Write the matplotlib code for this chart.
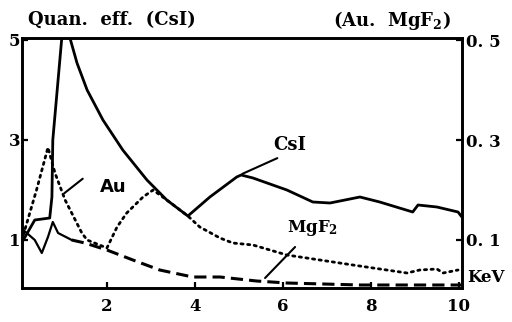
import matplotlib.pyplot as plt

plt.rcParams['font.family'] = ['DejaVu Serif']
plt.rcParams['font.weight'] = 'bold'
plt.rcParams['mathtext.fontset'] = 'dejavuserif'
plt.rcParams['mathtext.default'] = 'bf'

# CsI Quanteneffizienz (linke Achse)
csi_kev = [0.1, 0.36, 0.7, 0.75, 0.77, 1.0, 1.1, 1.16, 1.32, 1.55, 1.91, 2.36, 2.91, 3.36, 3.84,
           4.34, 4.95, 5.05, 5.32, 6.09, 6.68, 7.07, 7.75, 8.2, 8.95, 9.07, 9.5, 9.98, 10.05]
csi_eff = [1.0, 1.4, 1.44, 1.86, 3.0, 5.3, 5.3, 5.04, 4.54, 4.0, 3.4, 2.8, 2.2, 1.8, 1.48,
           1.86, 2.26, 2.3, 2.24, 2.0, 1.76, 1.74, 1.86, 1.76, 1.56, 1.7, 1.66, 1.56, 1.48]

# Au (rechte Achse)
au_kev = [0.1, 0.4, 0.66, 0.82, 1.05, 1.43, 1.55, 2.0, 2.23, 2.45, 2.82, 3.05, 3.36, 3.84,
          4.11, 4.57, 4.86, 5.32, 6.09, 6.84, 7.59, 8.05, 8.82, 9.11, 9.5, 9.64, 9.98]
au_eff = [0.11, 0.20, 0.285, 0.234, 0.18, 0.114, 0.10, 0.084, 0.126, 0.154, 0.186, 0.20, 0.18, 0.148,
          0.126, 0.104, 0.094, 0.09, 0.07, 0.06, 0.05, 0.044, 0.034, 0.040, 0.042, 0.034, 0.040]

# MgF2 (rechte Achse)
mg_kev = [0.1, 0.36, 0.52, 0.66, 0.77, 0.89, 1.2, 1.5, 2.0, 2.59, 3.2, 3.95, 4.57, 5.4, 6.09, 7.75, 10.05]
mg_eff = [0.12, 0.10, 0.074, 0.106, 0.136, 0.114, 0.10, 0.094, 0.08, 0.06, 0.04, 0.026, 0.026, 0.018,
          0.014, 0.01, 0.01]

fig = plt.figure(figsize=(5.12, 3.22), dpi=100)
ax = fig.add_axes([22 / 512, 1 - 288 / 322, 440 / 512, 250 / 322])
ax2 = ax.twinx()

ax.plot(csi_kev, csi_eff, color='black', lw=2.0, solid_joinstyle='round')
ax2.plot(au_kev, au_eff, color='black', lw=2.0, linestyle=(0, (0.8, 1.6)), dash_capstyle='round')
# MgF2: Anfang duenn durchgezogen, danach gestrichelt
ax2.plot(mg_kev[:7], mg_eff[:7], color='black', lw=1.6)
ax2.plot(mg_kev[6:], mg_eff[6:], color='black', lw=2.2, linestyle=(0, (4, 2)))

ax.set_xlim(0.07, 10.07)
ax.set_ylim(0.04, 5.04)
ax2.set_ylim(0.004, 0.504)

ax.set_xticks([2, 4, 6, 8, 10])
ax.set_yticks([1, 3, 5])
ax2.set_yticks([0.1, 0.3, 0.5])
ax2.set_yticklabels(['0. 1', '0. 3', '0. 5'])

for a in (ax, ax2):
    for s in a.spines.values():
        s.set_linewidth(1.9)
ax.tick_params(axis='both', direction='in', length=4, width=1.6, labelsize=12)
ax.tick_params(axis='x', pad=7)
ax.tick_params(axis='y', pad=1)
ax2.tick_params(axis='y', direction='in', length=4, width=1.6, labelsize=12, pad=3)

# Beschriftungen mit Zeigerlinien
ax.text(6.16, 2.9, 'CsI', fontsize=13, ha='center', va='center')
ax.annotate('', xy=(5.02, 2.3), xytext=(5.93, 2.66), arrowprops=dict(arrowstyle='-', lw=1.5))
ax.text(2.14, 2.06, 'Au', fontsize=13, ha='center', va='center', family='DejaVu Sans')
ax.annotate('', xy=(0.98, 1.9), xytext=(1.5, 2.26), arrowprops=dict(arrowstyle='-', lw=1.5))
ax.text(6.68, 1.24, 'MgF$_2$', fontsize=12, ha='center', va='center')
ax.annotate('', xy=(5.55, 0.2), xytext=(6.32, 0.9), arrowprops=dict(arrowstyle='-', lw=1.5))

fig.text(28 / 512, 1 - 20 / 322, 'Quan.  eff.  (CsI)', fontsize=13, ha='left', va='center')
fig.text(333 / 512, 1 - 20 / 322, '(Au.  MgF$_2$)', fontsize=13, ha='left', va='center')
fig.text(467 / 512, 1 - 277 / 322, 'KeV', fontsize=12, ha='left', va='center')

fig.savefig('out.png', dpi=100)
